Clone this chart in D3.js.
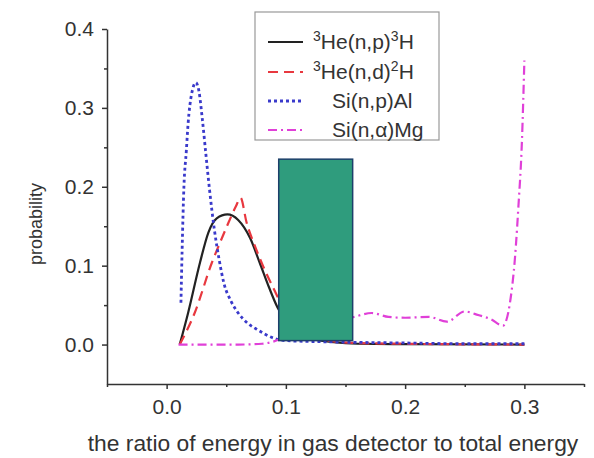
<!DOCTYPE html>
<html>
<head>
<meta charset="utf-8">
<script src="https://cdn.jsdelivr.net/npm/d3@7"></script>
<style>
  body { margin: 0; background: #fff; }
  svg { font-family: "Liberation Sans", Arial, sans-serif; }
  .axis path, .axis line { stroke: #333; stroke-width: 1.5; }
  .axis text { fill: #333; font-size: 21px; }
  .line-path { fill: none; }
</style>
</head>
<body>
<div id="viz"></div>
<script>
const width = 594;
const height = 458;

// data: [ratio, probability]
const npH = [[0.011,0],[0.018,0.04],[0.028,0.104],[0.035,0.142],[0.042,0.16],[0.051,0.165],[0.06,0.158],[0.07,0.135],
  [0.078,0.104],[0.086,0.072],[0.093,0.047],[0.1,0.03],[0.11,0.016],[0.12,0.008],[0.14,0.003],[0.16,0.001],[0.2,0.0005],[0.3,0]];
const ndH = [[0.011,0],[0.0235,0.04],[0.038,0.104],[0.045,0.13],[0.052,0.155],[0.058,0.175],[0.062,0.186],[0.067,0.155],
  [0.074,0.125],[0.081,0.099],[0.09,0.07],[0.1,0.04],[0.11,0.02],[0.12,0.01],[0.14,0.004],[0.16,0.002],[0.2,0.001],[0.3,0]];
const siAl = [[0.012,0.053],[0.013,0.12],[0.0145,0.2],[0.0165,0.245],[0.018,0.28],[0.021,0.318],[0.0245,0.332],[0.027,0.322],
  [0.030,0.285],[0.033,0.24],[0.036,0.196],[0.040,0.146],[0.044,0.108],[0.048,0.078],[0.054,0.055],[0.06,0.04],
  [0.068,0.027],[0.076,0.019],[0.09,0.008],[0.1,0.005],[0.12,0.004],[0.15,0.003],[0.2,0.002],[0.25,0.001],[0.3,0.001]];
const siMg = [[0.01,0],[0.03,0],[0.06,0],[0.08,0.001],[0.09,0.004],[0.1,0.01],[0.12,0.02],[0.14,0.028],[0.157,0.035],
  [0.172,0.04],[0.186,0.035],[0.2,0.034],[0.22,0.035],[0.235,0.029],[0.25,0.042],[0.26,0.038],[0.272,0.032],[0.282,0.024],
  [0.291,0.091],[0.295,0.175],[0.298,0.26],[0.3,0.36]];

const seriesData = [npH, ndH, siAl, siMg];
const seriesColors = ["#222222", "#e8383f", "#3a3acb", "#e040d8"];
const seriesDash = [null, "10,6", "3,3", "9,4,2,4"];
const seriesWidth = [2.2, 2.2, 2.8, 2.2];
// legend labels: [superscript before, main, superscript, tail]
const legendLabels = [["3", "He(n,p)", "3", "H"], ["3", "He(n,d)", "2", "H"], ["", "Si(n,p)Al", "", ""], ["", "Si(n,\u03b1)Mg", "", ""]];

const xTicks = [0, 0.1, 0.2, 0.3];
const xMinor = [-0.05, 0.05, 0.15, 0.25, 0.35];
const yTicks = [0, 0.1, 0.2, 0.3, 0.4];
const yMinor = [0.05, 0.15, 0.25, 0.35];

// the solid box covering the middle of the plot, in data units
const coverBox = { x0: 0.094, x1: 0.156, y0: 0.005, y1: 0.235 };

const svg = d3.select("#viz")
    .append("svg")
    .attr("width", width)
    .attr("height", height);

const xScale = d3.scaleLinear().domain([-0.05, 0.35]).range([107, 584]);
const yScale = d3.scaleLinear().domain([-0.05, 0.4]).range([384, 29]);

// minor ticks
svg.append("g")
    .attr("class", "axis")
    .attr("transform", `translate(0, ${yScale(-0.05)})`)
    .call(d3.axisBottom(xScale).tickValues(xMinor).tickSize(3).tickFormat(""))
    .select(".domain").remove();
svg.append("g")
    .attr("class", "axis")
    .attr("transform", `translate(${xScale(-0.05)}, 0)`)
    .call(d3.axisLeft(yScale).tickValues(yMinor).tickSize(3).tickFormat(""))
    .select(".domain").remove();

// major axes
svg.append("g")
    .attr("class", "axis")
    .attr("transform", `translate(0, ${yScale(-0.05)})`)
    .call(d3.axisBottom(xScale).tickValues(xTicks).tickSize(5).tickSizeOuter(0).tickPadding(10).tickFormat(d3.format(".1f")));
svg.append("g")
    .attr("class", "axis")
    .attr("transform", `translate(${xScale(-0.05)}, 0)`)
    .call(d3.axisLeft(yScale).tickValues(yTicks).tickSize(5).tickSizeOuter(0).tickPadding(8).tickFormat(d3.format(".1f")));

svg.append("text")
    .attr("x", 333)
    .attr("y", 451)
    .attr("text-anchor", "middle")
    .attr("fill", "#333")
    .attr("font-size", 22.8)
    .text("the ratio of energy in gas detector to total energy");

svg.append("text")
    .attr("transform", "translate(42, 224) rotate(-90)")
    .attr("text-anchor", "middle")
    .attr("fill", "#333")
    .attr("font-size", 18)
    .text("probability");

const lineGenerator = d3.line()
    .curve(d3.curveMonotoneX)
    .x(d => xScale(d[0]))
    .y(d => yScale(d[1]));

for (let i = 0; i < seriesData.length; i++) {
    svg.append("path")
        .attr("class", "line-path")
        .attr("d", lineGenerator(seriesData[i]))
        .attr("stroke", seriesColors[i])
        .attr("stroke-width", seriesWidth[i])
        .attr("stroke-dasharray", seriesDash[i]);
}

svg.append("rect")
    .attr("x", xScale(coverBox.x0))
    .attr("y", yScale(coverBox.y1))
    .attr("width", xScale(coverBox.x1) - xScale(coverBox.x0))
    .attr("height", yScale(coverBox.y0) - yScale(coverBox.y1))
    .attr("fill", "#2f9c7d")
    .attr("stroke", "#1d3f6a")
    .attr("stroke-width", 1.5);

// legend
const legend = svg.append("g").attr("transform", "translate(255, 12)");
legend.append("rect")
    .attr("width", 184)
    .attr("height", 128)
    .attr("fill", "#fff")
    .attr("stroke", "#999")
    .attr("stroke-width", 1.2);

const rowY = [30, 60, 89, 118];
const textX = [58, 58, 77, 77];
legendLabels.forEach((lab, i) => {
    legend.append("line")
        .attr("x1", 13).attr("x2", 48)
        .attr("y1", rowY[i]).attr("y2", rowY[i])
        .attr("stroke", seriesColors[i])
        .attr("stroke-width", seriesWidth[i])
        .attr("stroke-dasharray", seriesDash[i]);
    const t = legend.append("text")
        .attr("x", textX[i])
        .attr("y", rowY[i] + 7)
        .attr("fill", "#333")
        .attr("font-size", 21);
    if (lab[0]) t.append("tspan").attr("font-size", 14).attr("dy", -8).text(lab[0]);
    t.append("tspan").attr("dy", lab[0] ? 8 : 0).text(lab[1]);
    if (lab[2]) t.append("tspan").attr("font-size", 14).attr("dy", -8).text(lab[2]);
    if (lab[3]) t.append("tspan").attr("dy", 8).text(lab[3]);
});
</script>
</body>
</html>
